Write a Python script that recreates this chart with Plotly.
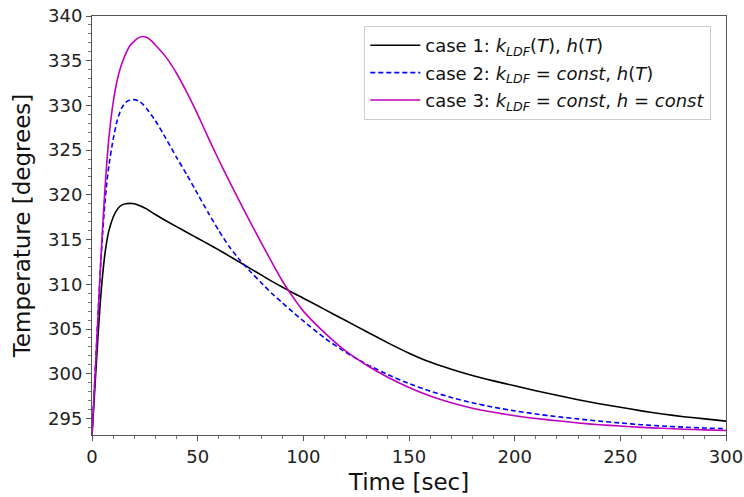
import plotly.graph_objects as go

# Time points (sec)
t = [0, 1, 2, 3, 4, 5, 6, 7, 8, 10, 12, 14, 16, 18, 20, 22, 24, 26, 28, 30,
     35, 40, 45, 50, 55, 60, 65, 70, 75, 80, 85, 90, 95, 100,
     110, 120, 130, 140, 150, 160, 170, 180, 190, 200,
     210, 220, 230, 240, 250, 260, 270, 280, 290, 300]

# case 1: k_LDF(T), h(T)
case1 = [293.15, 297.0, 301.0, 304.8, 308.2, 311.0, 313.2, 314.8, 316.0, 317.5,
         318.4, 318.85, 319.0, 319.05, 319.0, 318.85, 318.65, 318.4, 318.1, 317.8,
         317.1, 316.45, 315.8, 315.15, 314.5, 313.85, 313.15, 312.45, 311.75, 311.05,
         310.35, 309.7, 309.05, 308.45,
         307.2, 305.95, 304.7, 303.45, 302.3, 301.3, 300.5, 299.8, 299.2, 298.65,
         298.1, 297.6, 297.1, 296.65, 296.25, 295.85, 295.5, 295.2, 294.95, 294.7]

# case 2: k_LDF = const, h(T)
case2 = [293.15, 297.7, 302.5, 307.2, 311.7, 315.6, 318.8, 321.3, 323.3, 326.2,
         328.4, 329.7, 330.35, 330.6, 330.65, 330.5, 330.15, 329.6, 328.95, 328.3,
         326.3, 324.2, 322.2, 320.1, 318.0, 316.0, 314.2, 312.7, 311.4, 310.2,
         309.0, 307.95, 306.9, 305.9,
         304.0, 302.4, 301.05, 299.9, 298.9, 298.05, 297.35, 296.75, 296.25, 295.85,
         295.5, 295.2, 294.95, 294.7, 294.5, 294.3, 294.15, 294.03, 293.93, 293.85]

# case 3: k_LDF = const, h = const
case3 = [293.15, 297.7, 302.5, 307.2, 311.9, 316.3, 320.2, 323.6, 326.4, 330.3,
         332.9, 334.6, 335.8, 336.7, 337.2, 337.55, 337.7, 337.6, 337.25, 336.75,
         335.4, 333.6, 331.4, 329.0, 326.4, 323.9, 321.5, 319.2, 316.9, 314.7,
         312.5, 310.4, 308.6, 307.0,
         304.6, 302.55, 300.95, 299.6, 298.45, 297.5, 296.75, 296.15, 295.7, 295.3,
         295.0, 294.75, 294.5, 294.3, 294.15, 294.0, 293.9, 293.8, 293.72, 293.65]

names = [
    "case 1: <i>k</i><sub><i>LDF</i></sub>(<i>T</i>), <i>h</i>(<i>T</i>)",
    "case 2: <i>k</i><sub><i>LDF</i></sub> = <i>const</i>, <i>h</i>(<i>T</i>)",
    "case 3: <i>k</i><sub><i>LDF</i></sub> = <i>const</i>, <i>h</i> = <i>const</i>",
]

fig = go.Figure()
fig.add_trace(go.Scatter(x=t, y=case1, mode="lines", name=names[0], legendgroup="g1",
                         line=dict(color="black", width=1.6, shape="spline", smoothing=0.5)))
fig.add_trace(go.Scatter(x=t, y=case2, mode="lines", name=names[1], legendgroup="g2",
                         line=dict(color="#0000ff", width=1.6, dash="5px,3px",
                                   shape="spline", smoothing=0.5)))
fig.add_trace(go.Scatter(x=t, y=case3, mode="lines", name=names[2], legendgroup="g3",
                         line=dict(color="#bf00bf", width=1.6, shape="spline", smoothing=0.5)))

axis_common = dict(
    showline=True, mirror=True, linecolor="#555", linewidth=1,
    ticks="outside", ticklen=5, tickwidth=1, tickcolor="#555",
    showgrid=False, zeroline=False, automargin=False,
    tickfont=dict(family="DejaVu Sans", size=18, color="#222"),
)

fig.update_xaxes(
    range=[0, 300], tickmode="linear", tick0=0, dtick=50,
    minor=dict(ticks="outside", ticklen=3, dtick=10, tickcolor="#777", showgrid=False),
    title=dict(text="Time [sec]", font=dict(family="DejaVu Sans", size=23, color="#111"),
               standoff=8),
    **axis_common,
)
fig.update_yaxes(
    range=[293.15, 340], tickmode="linear", tick0=295, dtick=5,
    minor=dict(ticks="outside", ticklen=3, dtick=1, tickcolor="#777", showgrid=False),
    title=dict(text="Temperature [degrees]",
               font=dict(family="DejaVu Sans", size=23, color="#111"), standoff=10),
    **axis_common,
)

fig.update_layout(
    width=744, height=497,
    margin=dict(l=92, r=18, t=16, b=62),
    plot_bgcolor="white", paper_bgcolor="white",
    legend=dict(
        x=0.4295, y=0.976, xanchor="left", yanchor="top",
        bgcolor="rgba(255,255,255,0.8)", bordercolor="#cccccc", borderwidth=1,
        font=dict(family="DejaVu Sans", size=18, color="#111"),
        traceorder="grouped", tracegroupgap=1, itemwidth=50,
    ),
    showlegend=True,
)

fig.write_html("out.html")
